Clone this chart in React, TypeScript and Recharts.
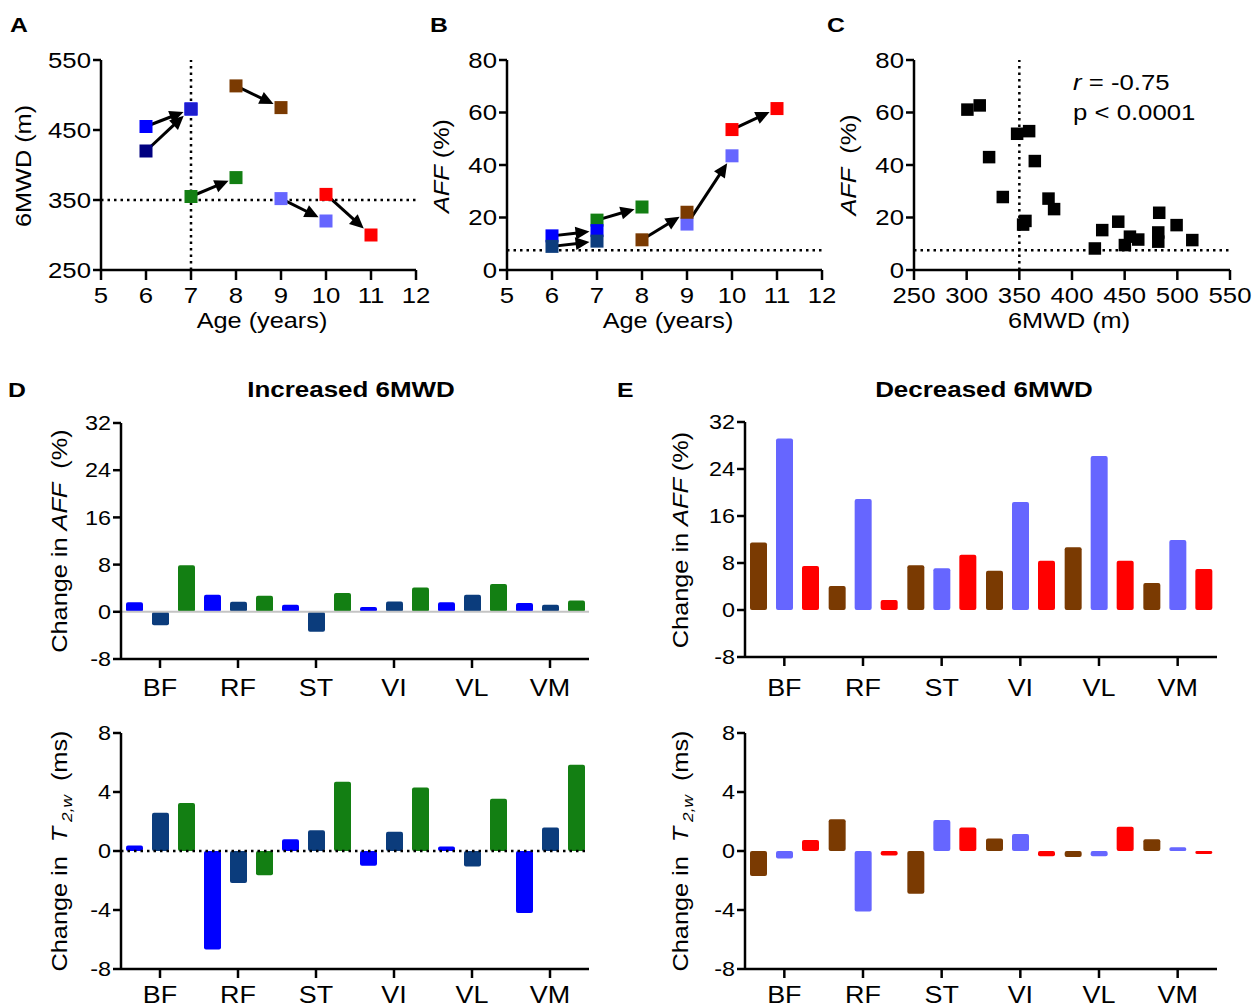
import React from 'react';
import { ScatterChart, Scatter, XAxis, YAxis, ReferenceLine, BarChart, Bar } from 'recharts';

const FONT = "'Liberation Sans', Arial, Helvetica, sans-serif";

// ---------------- Data ----------------
const ageTicks = [5, 6, 7, 8, 9, 10, 11, 12];
const walkTicks = [250, 350, 450, 550];
const affTicks = [0, 20, 40, 60, 80];
const walkAxisTicks = [250, 300, 350, 400, 450, 500, 550];

const patientIds = ['blue', 'navy', 'green', 'brown', 'lightblue', 'red'];
const ageFirst = [6, 6, 7, 8, 9, 10];
const ageSecond = [7, 7, 8, 9, 10, 11];
const walkFirst = [455, 420, 355, 513, 352, 358];
const walkSecond = [480, 480, 382, 482, 320, 300];
const affFirst = [13, 9, 19, 11.5, 17.5, 53.5];
const affSecond = [15, 11, 24, 22, 43.5, 61.5];

const corrWalk = [300.7, 312.4, 321.3, 334.3, 347.9, 359.3, 364.7, 353.6, 355.8, 377.7, 383.0, 421.7, 428.7, 443.9, 450.2, 455.0, 462.9, 482.8, 481.9, 481.9, 499.3, 514.2];
const corrAff = [61.1, 62.7, 43.0, 27.8, 51.9, 52.9, 41.5, 17.3, 18.7, 27.2, 23.2, 8.2, 15.2, 18.4, 9.5, 12.7, 11.6, 21.8, 14.3, 10.8, 17.1, 11.4];

const walkCutoff = 350;
const ageCutoff = 7;
const affNormal = 7.5;

const muscles = ['BF', 'RF', 'ST', 'VI', 'VL', 'VM'];
const affTicksBar = [-8, 0, 8, 16, 24, 32];
const t2Ticks = [-8, -4, 0, 4, 8];

// Increased 6MWD (blue, navy, green)
const incAffBlue = [1.6, 2.9, 1.2, 0.8, 1.6, 1.5];
const incAffNavy = [-2.3, 1.7, -3.4, 1.75, 2.9, 1.2];
const incAffGreen = [7.9, 2.7, 3.2, 4.1, 4.7, 1.9];
const incT2Blue = [0.38, -6.67, 0.8, -1.0, 0.3, -4.2];
const incT2Navy = [2.6, -2.17, 1.4, 1.3, -1.05, 1.6];
const incT2Green = [3.25, -1.65, 4.7, 4.3, 3.55, 5.85];

// Decreased 6MWD (brown, light blue, red)
const decAffBrown = [11.5, 4.1, 7.6, 6.7, 10.7, 4.6];
const decAffLight = [29.2, 18.9, 7.1, 18.4, 26.2, 11.9];
const decAffRed = [7.5, 1.7, 9.4, 8.4, 8.4, 7.0];
const decT2Brown = [-1.7, 2.15, -2.9, 0.85, -0.4, 0.8];
const decT2Light = [-0.5, -4.1, 2.1, 1.15, -0.35, 0.25];
const decT2Red = [0.75, -0.3, 1.6, -0.35, 1.65, -0.2];

// ---------------- Styles ----------------
const colorsA: Record<string, string> = { blue: '#0000ff', navy: '#000080', green: '#137f13', brown: '#7a3a02', lightblue: '#6666ff', red: '#ff0000' };
const colorsB: Record<string, string> = { blue: '#0000ff', navy: '#0d3d7d', green: '#137f13', brown: '#7a3a02', lightblue: '#6666ff', red: '#ff0000' };
const endColorsA: Record<string, string> = { navy: '#1d1dcf' };
const orderA = ['blue', 'navy', 'green', 'brown', 'lightblue', 'red'];
const orderB = ['green', 'blue', 'navy', 'lightblue', 'brown', 'red'];
const incColors = ['#0000ff', '#0b3c7c', '#137f13'];
const decColors = ['#7a3a02', '#6666ff', '#ff0000'];

const AX = { stroke: '#000', strokeWidth: 2.5 };
const SX = 1.17;

const buildRows = (a: number[], b: number[], c: number[]) =>
  muscles.map((m, i) => ({ muscle: m, first: a[i], second: b[i], third: c[i] }));

const patientData = (xs1: number[], xs2: number[], ys1: number[], ys2: number[], id: string) => {
  const i = patientIds.indexOf(id);
  return [
    { x: xs1[i], y: ys1[i], stage: 0 },
    { x: xs2[i], y: ys2[i], stage: 1 },
  ];
};

// ---------------- Helpers ----------------
const xTick = (size: number, sx: number) => (props: any) => {
  const { x, y, payload } = props;
  return (
    <g transform={`translate(${x},${y}) scale(${sx},1)`}>
      <text x={0} y={0} dy="0.71em" textAnchor="middle" fontSize={size} fontFamily={FONT} fill="#000">
        {payload.value}
      </text>
    </g>
  );
};

const yTick = (size: number, sx: number) => (props: any) => {
  const { x, y, payload } = props;
  return (
    <g transform={`translate(${x},${y}) scale(${sx},1)`}>
      <text x={0} y={0} dy="0.36em" textAnchor="end" fontSize={size} fontFamily={FONT} fill="#000">
        {payload.value}
      </text>
    </g>
  );
};

const arrowLine = (props: any) => {
  const pts = props.points;
  if (!pts || pts.length < 2) return <g />;
  const a = pts[0];
  const b = pts[1];
  const dx = b.x - a.x;
  const dy = b.y - a.y;
  const len = Math.hypot(dx, dy) || 1;
  const ux = dx / len;
  const uy = dy / len;
  const gap = 6.5 / Math.max(Math.abs(ux), Math.abs(uy)) + 1;
  const head = 14;
  const half = 6.5;
  const tip = { x: b.x - ux * gap, y: b.y - uy * gap };
  const base = { x: tip.x - ux * head, y: tip.y - uy * head };
  const px = -uy;
  const py = ux;
  const poly = `${tip.x},${tip.y} ${base.x + px * half},${base.y + py * half} ${base.x - px * half},${base.y - py * half}`;
  return (
    <g>
      <line x1={a.x} y1={a.y} x2={base.x + ux * 2} y2={base.y + uy * 2} stroke="#000" strokeWidth={3} />
      <polygon points={poly} fill="#000" />
    </g>
  );
};

const squareShape = (color: string, endColor: string | undefined, s: number) => (p: any) => {
  const fill = p.payload && p.payload.stage === 1 && endColor ? endColor : color;
  return <rect x={p.cx - s / 2} y={p.cy - s / 2} width={s} height={s} fill={fill} />;
};

type Plot = { x0: number; x1: number; y0: number; y1: number };

function ScatterPanel(props: any) {
  const { left, top, width, height, plot, xDomain, xTicks, yDomain, yTicks, children } = props;
  const margin = { top: plot.y0 - top, right: left + width - plot.x1, bottom: 0, left: 0 };
  return (
    <div style={{ position: 'absolute', left, top, width, height }}>
      <ScatterChart width={width} height={height} margin={margin}>
        <XAxis
          type="number"
          dataKey="x"
          domain={xDomain}
          ticks={xTicks}
          allowDataOverflow
          interval={0}
          height={top + height - plot.y1}
          axisLine={AX}
          tickLine={AX}
          tickSize={10}
          tickMargin={7}
          tick={xTick(22, SX)}
        />
        <YAxis
          type="number"
          dataKey="y"
          domain={yDomain}
          ticks={yTicks}
          allowDataOverflow
          interval={0}
          width={plot.x0 - left}
          axisLine={AX}
          tickLine={AX}
          tickSize={8}
          tickMargin={2}
          tick={yTick(22, SX)}
        />
        {children}
      </ScatterChart>
    </div>
  );
}

function BarPanel(props: any) {
  const { left, top, width, height, plot, rows, colors, domain, ticks, zeroLine, catMargin } = props;
  const margin = { top: plot.y0 - top, right: left + width - plot.x1, bottom: 0, left: 0 };
  return (
    <div style={{ position: 'absolute', left, top, width, height }}>
      <BarChart width={width} height={height} data={rows} margin={margin} barCategoryGap={5} barGap={9}>
        <XAxis
          dataKey="muscle"
          type="category"
          interval={0}
          height={top + height - plot.y1}
          axisLine={AX}
          tickLine={AX}
          tickSize={9}
          tickMargin={catMargin}
          tick={xTick(23, SX)}
        />
        <YAxis
          type="number"
          domain={domain}
          ticks={ticks}
          allowDataOverflow
          interval={0}
          width={plot.x0 - left}
          axisLine={AX}
          tickLine={AX}
          tickSize={8}
          tickMargin={2}
          tick={yTick(20, SX)}
        />
        {zeroLine}
        <Bar dataKey="first" fill={colors[0]} radius={2} isAnimationActive={false} />
        <Bar dataKey="second" fill={colors[1]} radius={2} isAnimationActive={false} />
        <Bar dataKey="third" fill={colors[2]} radius={2} isAnimationActive={false} />
      </BarChart>
    </div>
  );
}

function SText(props: any) {
  const { x, y, size, sx = 1, rotate = 0, anchor = 'start', weight = 'normal', baseline, children } = props;
  return (
    <g transform={`translate(${x},${y}) rotate(${rotate}) scale(${sx},1)`}>
      <text x={0} y={0} fontSize={size} fontFamily={FONT} fontWeight={weight} textAnchor={anchor} dominantBaseline={baseline} fill="#000">
        {children}
      </text>
    </g>
  );
}

const dotted = { stroke: '#000', strokeWidth: 2.5, strokeDasharray: '2.5 4' };

export default function App() {
  const plotA: Plot = { x0: 101, x1: 416, y0: 60, y1: 270 };
  const plotB: Plot = { x0: 507, x1: 822, y0: 60, y1: 270 };
  const plotC: Plot = { x0: 914, x1: 1230, y0: 60, y1: 270 };
  const plotD1: Plot = { x0: 121, x1: 589, y0: 423, y1: 659 };
  const plotE1: Plot = { x0: 745, x1: 1217, y0: 422, y1: 657 };
  const plotD2: Plot = { x0: 121, x1: 589, y0: 733, y1: 969 };
  const plotE2: Plot = { x0: 745, x1: 1217, y0: 733, y1: 969 };

  return (
    <div style={{ position: 'absolute', left: 0, top: 0, width: 1253, height: 1008, background: '#fff', overflow: 'hidden' }}>
      <ScatterPanel left={0} top={0} width={440} height={345} plot={plotA} xDomain={[5, 12]} xTicks={ageTicks} yDomain={[250, 550]} yTicks={walkTicks}>
        <ReferenceLine x={ageCutoff} {...dotted} />
        <ReferenceLine y={walkCutoff} {...dotted} />
        {orderA.map((id) => (
          <Scatter
            key={id}
            data={patientData(ageFirst, ageSecond, walkFirst, walkSecond, id)}
            line={arrowLine}
            shape={squareShape(colorsA[id], endColorsA[id], 13)}
            isAnimationActive={false}
          />
        ))}
      </ScatterPanel>

      <ScatterPanel left={420} top={0} width={420} height={345} plot={plotB} xDomain={[5, 12]} xTicks={ageTicks} yDomain={[0, 80]} yTicks={affTicks}>
        <ReferenceLine y={affNormal} {...dotted} />
        {orderB.map((id) => (
          <Scatter
            key={id}
            data={patientData(ageFirst, ageSecond, affFirst, affSecond, id)}
            line={arrowLine}
            shape={squareShape(colorsB[id], undefined, 13)}
            isAnimationActive={false}
          />
        ))}
      </ScatterPanel>

      <ScatterPanel left={830} top={0} width={423} height={345} plot={plotC} xDomain={[250, 550]} xTicks={walkAxisTicks} yDomain={[0, 80]} yTicks={affTicks}>
        <ReferenceLine x={walkCutoff} {...dotted} />
        <ReferenceLine y={affNormal} {...dotted} />
        <Scatter
          data={corrWalk.map((w, i) => ({ x: w, y: corrAff[i], stage: 0 }))}
          shape={squareShape('#000', undefined, 12.5)}
          isAnimationActive={false}
        />
      </ScatterPanel>

      <BarPanel
        left={0} top={400} width={620} height={305} plot={plotD1}
        rows={buildRows(incAffBlue, incAffNavy, incAffGreen)} colors={incColors}
        domain={[-8, 32]} ticks={affTicksBar} catMargin={12}
        zeroLine={<ReferenceLine y={0} stroke="#c4c4c4" strokeWidth={2} />}
      />
      <BarPanel
        left={620} top={400} width={633} height={305} plot={plotE1}
        rows={buildRows(decAffBrown, decAffLight, decAffRed)} colors={decColors}
        domain={[-8, 32]} ticks={affTicksBar} catMargin={14}
        zeroLine={null}
      />
      <BarPanel
        left={0} top={712} width={620} height={296} plot={plotD2}
        rows={buildRows(incT2Blue, incT2Navy, incT2Green)} colors={incColors}
        domain={[-8, 8]} ticks={t2Ticks} catMargin={9}
        zeroLine={<ReferenceLine y={0} {...dotted} />}
      />
      <BarPanel
        left={620} top={712} width={633} height={296} plot={plotE2}
        rows={buildRows(decT2Brown, decT2Light, decT2Red)} colors={decColors}
        domain={[-8, 8]} ticks={t2Ticks} catMargin={9}
        zeroLine={null}
      />

      <svg width={1253} height={1008} style={{ position: 'absolute', left: 0, top: 0, pointerEvents: 'none' }}>
        {/* panel letters */}
        <SText x={10} y={32} size={21} sx={1.18} weight="bold">A</SText>
        <SText x={430} y={32} size={21} sx={1.18} weight="bold">B</SText>
        <SText x={827} y={32} size={21} sx={1.18} weight="bold">C</SText>
        <SText x={8} y={397} size={21} sx={1.18} weight="bold">D</SText>
        <SText x={617} y={397} size={21} sx={1.18} weight="bold">E</SText>
        <SText x={351} y={397} size={22} sx={1.18} weight="bold" anchor="middle">Increased 6MWD</SText>
        <SText x={984} y={397} size={22} sx={1.18} weight="bold" anchor="middle">Decreased 6MWD</SText>

        {/* x titles */}
        <SText x={262} y={328} size={22} sx={1.15} anchor="middle">Age (years)</SText>
        <SText x={668} y={328} size={22} sx={1.15} anchor="middle">Age (years)</SText>
        <SText x={1069} y={328} size={22} sx={1.15} anchor="middle">6MWD (m)</SText>

        {/* y titles */}
        <SText x={24} y={166} size={22} sx={1.15} rotate={-90} anchor="middle" baseline="central">6MWD (m)</SText>
        <SText x={442} y={166} size={22} sx={1.15} rotate={-90} anchor="middle" baseline="central">
          <tspan fontStyle="italic">AFF</tspan> (%)
        </SText>
        <SText x={849} y={165} size={22} sx={1.15} rotate={-90} anchor="middle" baseline="central">
          <tspan fontStyle="italic">AFF</tspan>{'\u00a0 (%)'}
        </SText>
        <SText x={60} y={541} size={22} sx={1.15} rotate={-90} anchor="middle" baseline="central">
          Change in <tspan fontStyle="italic">AFF</tspan>{'\u00a0 (%)'}
        </SText>
        <SText x={681} y={540} size={22} sx={1.15} rotate={-90} anchor="middle" baseline="central">
          Change in <tspan fontStyle="italic">AFF</tspan>{' (%)'}
        </SText>
        <SText x={60} y={851} size={22} sx={1.15} rotate={-90} anchor="middle" baseline="central">
          {'Change in\u00a0 '}<tspan fontStyle="italic">T</tspan>
          <tspan fontStyle="italic" fontSize={15} dy={6}>{'\u00a02,w'}</tspan>
          <tspan dy={-6}>{'\u00a0 (ms)'}</tspan>
        </SText>
        <SText x={681} y={851} size={22} sx={1.15} rotate={-90} anchor="middle" baseline="central">
          {'Change in\u00a0 '}<tspan fontStyle="italic">T</tspan>
          <tspan fontStyle="italic" fontSize={15} dy={6}>{'\u00a02,w'}</tspan>
          <tspan dy={-6}>{'\u00a0 (ms)'}</tspan>
        </SText>

        {/* correlation annotation */}
        <SText x={1073} y={90} size={22} sx={1.17}>
          <tspan fontStyle="italic">r</tspan> = -0.75
        </SText>
        <SText x={1073} y={120} size={22} sx={1.17}>p &lt; 0.0001</SText>
      </svg>
    </div>
  );
}
